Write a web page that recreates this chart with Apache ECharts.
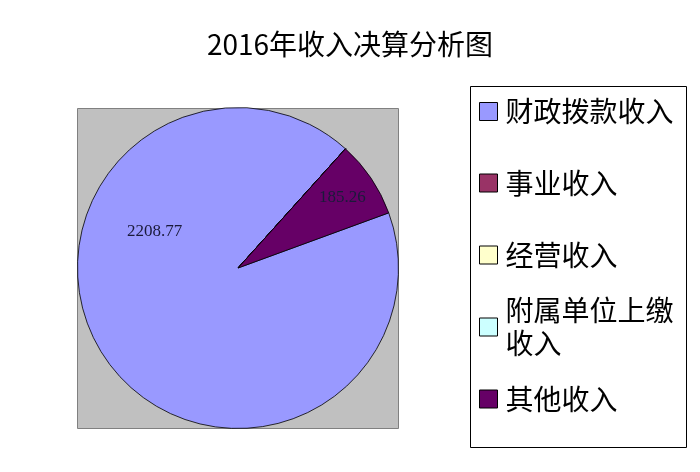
<!DOCTYPE html>
<html>
<head>
<meta charset="utf-8">
<script src="https://cdn.jsdelivr.net/npm/echarts@6/dist/echarts.min.js"></script>
<style>html,body{margin:0;padding:0;background:#fff;}#c{width:700px;height:472px;}</style>
</head>
<body>
<div id="c"></div>
<script>
var titleText = '2016年收入决算分析图';
var categories = ['财政拨款收入', '事业收入', '经营收入', '附属单位上缴收入', '其他收入'];
var values = [2208.77, 0, 0, 0, 185.26];
var colors = ['#9999FF', '#993366', '#FFFFCC', '#CCFFFF', '#660066'];
var legendLabels = ['财政拨款收入', '事业收入', '经营收入', '附属单位上缴\n收入', '其他收入'];

var chart = echarts.init(document.getElementById('c'), null, {renderer: 'canvas'});

var cjk = '"Noto Sans CJK SC", "Noto Sans", sans-serif';
var legendCenters = [111.5, 183, 255, 327, 399];
var LH = 33;
var legends = categories.map(function (name, i) {
  var multi = legendLabels[i].indexOf('\n') >= 0;
  return {
    data: [name],
    orient: 'vertical',
    left: 479,
    top: multi ? legendCenters[i] - LH * 1.5 : legendCenters[i] - LH / 2,
    padding: 0,
    icon: 'rect',
    itemWidth: 18,
    itemHeight: 18,
    selectedMode: false,
    itemStyle: {borderColor: '#000', borderWidth: 1},
    formatter: function () { return legendLabels[i]; },
    textStyle: {
      fontFamily: cjk, fontSize: 28, color: '#000', lineHeight: LH,
      padding: multi ? [LH, 0, 0, 3] : [0, 0, 0, 3]
    }
  };
});

var labelOffsets = {0: [-14.5, -83], 4: [35.5, -24]};

chart.setOption({
  animation: false,
  backgroundColor: '#fff',
  title: {
    text: titleText,
    left: 'center',
    top: 30,
    padding: 0,
    textStyle: {fontFamily: cjk, fontSize: 28, fontWeight: 'normal', color: '#000'}
  },
  graphic: [
    {type: 'rect', shape: {x: 77.5, y: 108.5, width: 321, height: 320}, style: {fill: '#C0C0C0', stroke: '#808080', lineWidth: 1}, z: -10},
    {type: 'rect', shape: {x: 470.5, y: 86.5, width: 216, height: 361}, style: {fill: '#fff', stroke: '#000', lineWidth: 1}, z: -10}
  ],
  legend: legends,
  color: colors,
  series: [{
    type: 'pie',
    center: [238, 268],
    radius: 160.5,
    startAngle: 20.1,
    clockwise: true,
    minShowLabelAngle: 1,
    avoidLabelOverlap: false,
    data: categories.map(function (n, i) { return {name: n, value: values[i]}; }),
    itemStyle: {borderColor: '#000', borderWidth: 0.8},
    label: {
      show: true,
      position: 'inside',
      formatter: '{c}',
      fontFamily: '"Liberation Serif", serif',
      fontSize: 17,
      color: '#1a1a3a'
    },
    labelLine: {show: false},
    emphasis: {disabled: true},
    labelLayout: function (p) {
      var o = labelOffsets[p.dataIndex];
      if (o) return {dx: o[0], dy: o[1]};
    }
  }]
});
</script>
</body>
</html>
